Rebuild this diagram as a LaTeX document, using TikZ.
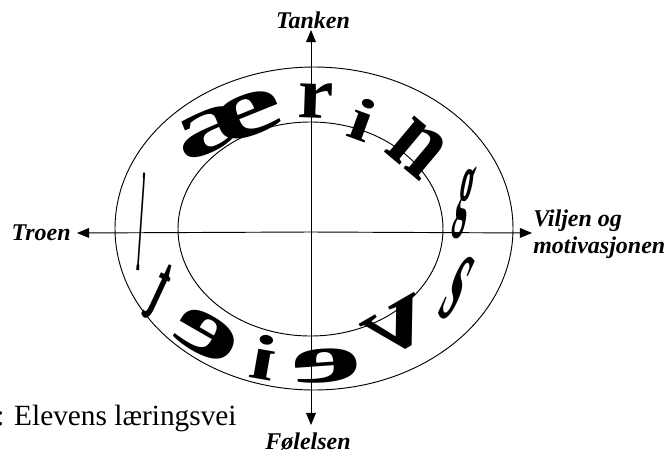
\documentclass[tikz,border=0pt]{standalone}
\usepackage{graphicx}
\usepackage{fontspec}
\setmainfont{Liberation Serif}
\usetikzlibrary{arrows.meta}
\tikzset{
  % --- rings and axes --------------------------------------------------------
  ring/.style={line width=0.7pt,black},
  axis/.style={line width=0.7pt,black,-{Triangle[length=3.2mm,width=2.6mm]}},
  % --- texts -----------------------------------------------------------------
  axlab/.style={font=\fontsize{18}{20}\selectfont\bfseries\itshape,inner sep=0pt},
  caption/.style={font=\fontsize{22}{24}\selectfont,inner sep=0pt},
  % warped letters running round the ring
  ringch/.style={font=\fontsize{48}{48}\selectfont\bfseries,inner sep=0pt},
}

\begin{document}
\begin{tikzpicture}[x=0.75pt, y=-0.75pt]
  \useasboundingbox (0,0) rectangle (665,457);

  \coordinate (o)    at (311,232);
  \coordinate (nTip) at (311,30);
  \coordinate (sTip) at (311,425);
  \coordinate (wTip) at (77,233);
  \coordinate (eTip) at (532,233);

  \draw[ring] (314,228.5) ellipse [x radius=199, y radius=161.5];
  \draw[ring] (310.5,229) ellipse [x radius=132.5, y radius=107];

  \draw[axis] (o) -- (nTip);
  \draw[axis] (o) -- (sTip);
  \draw[axis] (o) -- (wTip);
  \draw[axis] (o) -- (eTip);

  \node[axlab,anchor=south] (tanken) at (313,29) {Tanken};
  \node[axlab,anchor=east]  (troen)  at (71,233) {Troen};
  \node[axlab,anchor=west,align=left] (viljen) at (533,234)
       {Viljen og\\motivasjonen};
  \node[axlab] (foelelsen) at (308,442) {Følelsen};
  \node[caption,anchor=west] (cap) at (-4,418) {: Elevens læringsvei};

  % upper half: letters stand outwards
  \node[ringch,rotate=-4]  (c1)  at (142,222) {\scalebox{0.18}[2.2]{l}};
  \node[ringch,rotate=22]  (c2)  at (230,123) {\scalebox{2.5}[1.35]{æ}};
  \node[ringch,rotate=-2]  (c3)  at (316,101) {\scalebox{1.25}[1.15]{r}};
  \node[ringch,rotate=-20] (c4)  at (363,120) {\scalebox{1.3}[0.95]{i}};
  \node[ringch,rotate=-40] (c5)  at (417,148) {\scalebox{1.4}[1.6]{n}};
  % right side, squeezed
  \node[ringch,rotate=-12] (c6)  at (464,202) {\scalebox{0.4}[1.6]{g}};
  \node[ringch,rotate=-25] (c7)  at (457,288) {\scalebox{0.6}[2.2]{s}};
  % lower half: mirrored letters
  \node[ringch,rotate=30]  (c8)  at (398,328) {\scalebox{-2.0}[1.5]{v}};
  \node[ringch,rotate=4]   (c9)  at (327,366) {\scalebox{-2.5}[1.1]{e}};
  \node[ringch,rotate=-10] (c10) at (264,357) {\scalebox{-1.4}[1]{i}};
  \node[ringch,rotate=-30] (c11) at (207,336) {\scalebox{-2.4}[1.3]{e}};
  \node[ringch,rotate=-25] (c12) at (159,292) {\scalebox{-0.6}[1.6]{t}};
\end{tikzpicture}
\end{document}
